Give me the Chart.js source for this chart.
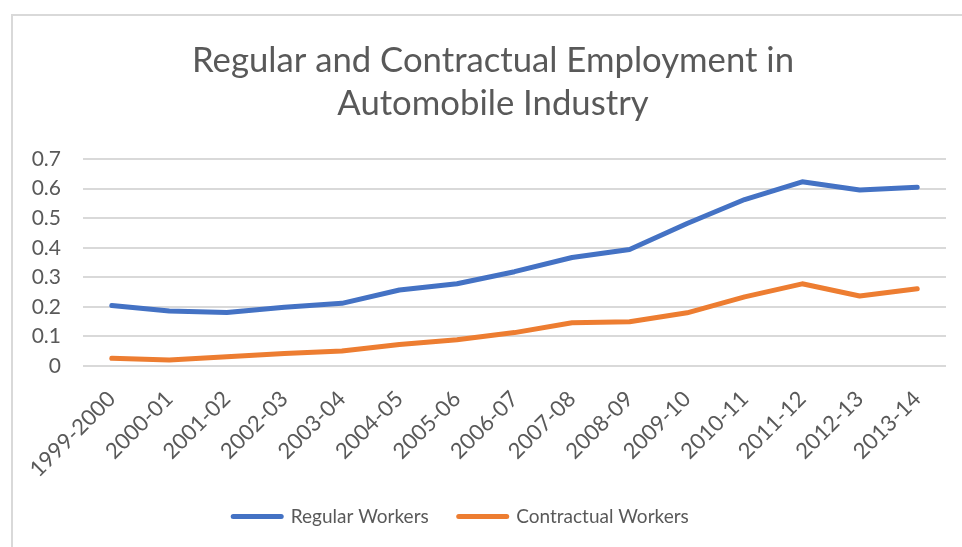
<!DOCTYPE html>
<html>
<head>
<meta charset="utf-8">
<script src="https://cdn.jsdelivr.net/npm/chart.js@4.4.1/dist/chart.umd.min.js"></script>
<style>
  html, body { margin: 0; padding: 0; background: #fff; overflow: hidden; }
  #frame { position: absolute; left: 11px; top: 14px; width: 1000px; height: 600px; border: 2px solid #d9d9d9; box-sizing: border-box; }
  #myc { position: absolute; left: 0; top: 0; }
</style>
</head>
<body>
<div id="frame"></div>
<canvas id="myc" width="962" height="547"></canvas>
<script>
// chart data
var years = ["1999-2000","2000-01","2001-02","2002-03","2003-04","2004-05","2005-06",
             "2006-07","2007-08","2008-09","2009-10","2010-11","2011-12","2012-13","2013-14"];
var regular = [0.205,0.186,0.181,0.199,0.212,0.257,0.278,0.319,0.367,0.394,0.482,0.563,0.623,0.595,0.605];
var contractual = [0.026,0.020,0.031,0.042,0.051,0.073,0.089,0.113,0.146,0.150,0.180,0.234,0.278,0.237,0.261];
var yTicks = [0,0.1,0.2,0.3,0.4,0.5,0.6,0.7];

var fontName = "Lato";
var grey = "#595959";

const data = {
    labels: years,
    datasets: [{
        label: "Regular Workers",
        data: regular,
        borderColor: "#4472c4",
        backgroundColor: "#4472c4",
        borderWidth: 5,
        pointRadius: 0,
        borderCapStyle: "round",
        borderJoinStyle: "round",
        tension: 0
    },{
        label: "Contractual Workers",
        data: contractual,
        borderColor: "#ed7d31",
        backgroundColor: "#ed7d31",
        borderWidth: 5,
        pointRadius: 0,
        borderCapStyle: "round",
        borderJoinStyle: "round",
        tension: 0
    }]
};

// title sits a bit right of centre and legend a bit left, like the original
const blockShift = {
    id: "blockShift",
    afterLayout: function(chart) {
        chart.legend.left -= 20;
        chart.legend.right -= 20;
        chart.titleBlock.left += 12;
        chart.titleBlock.right += 12;
    }
};

const config = {
    type: "line",
    data: data,
    plugins: [blockShift],
    options: {
        responsive: false,
        animation: false,
        layout: { padding: { top: 39, left: 16, right: 16, bottom: 11 } },
        plugins: {
            title: {
                display: true,
                text: ["Regular and Contractual Employment in", "Automobile Industry"],
                color: grey,
                font: { family: fontName, size: 34.7, weight: "normal", lineHeight: 1.24 },
                padding: { top: 0, bottom: 34 }
            },
            legend: {
                position: "bottom",
                labels: {
                    color: grey,
                    font: { family: fontName, size: 19 },
                    usePointStyle: true,
                    pointStyleWidth: 48,
                    boxHeight: 5,
                    padding: 30,
                    generateLabels: function(chart) {
                        return chart.data.datasets.map(function(ds, i) {
                            return {
                                text: ds.label,
                                fillStyle: ds.borderColor,
                                strokeStyle: ds.borderColor,
                                lineWidth: 5,
                                lineCap: "round",
                                pointStyle: "line",
                                fontColor: grey,
                                datasetIndex: i
                            };
                        });
                    }
                }
            },
            tooltip: { enabled: false }
        },
        scales: {
            x: {
                offset: true,
                grid: { display: false, drawTicks: false },
                border: { display: false },
                afterFit: function(s) {
                    s.paddingLeft = 0;
                    s.paddingRight = 0;
                    s.height = 111;
                },
                ticks: {
                    color: grey,
                    font: { family: fontName, size: 22 },
                    minRotation: 45,
                    maxRotation: 45,
                    padding: 20,
                    autoSkip: false
                }
            },
            y: {
                min: 0,
                max: 0.7,
                afterBuildTicks: function(axis) {
                    axis.ticks = yTicks.map(function(v) { return { value: v }; });
                },
                afterFit: function(s) {
                    s.width = 67;
                },
                grid: { color: "#d9d9d9", lineWidth: 2, drawTicks: false },
                border: { display: false },
                ticks: {
                    color: grey,
                    font: { family: fontName, size: 21 },
                    padding: 22,
                    callback: function(v) { return String(Math.round(v * 10) / 10); }
                }
            }
        }
    }
};

const ctx = document.getElementById("myc").getContext("2d");
var myChart = new Chart(ctx, config);
</script>
</body>
</html>
